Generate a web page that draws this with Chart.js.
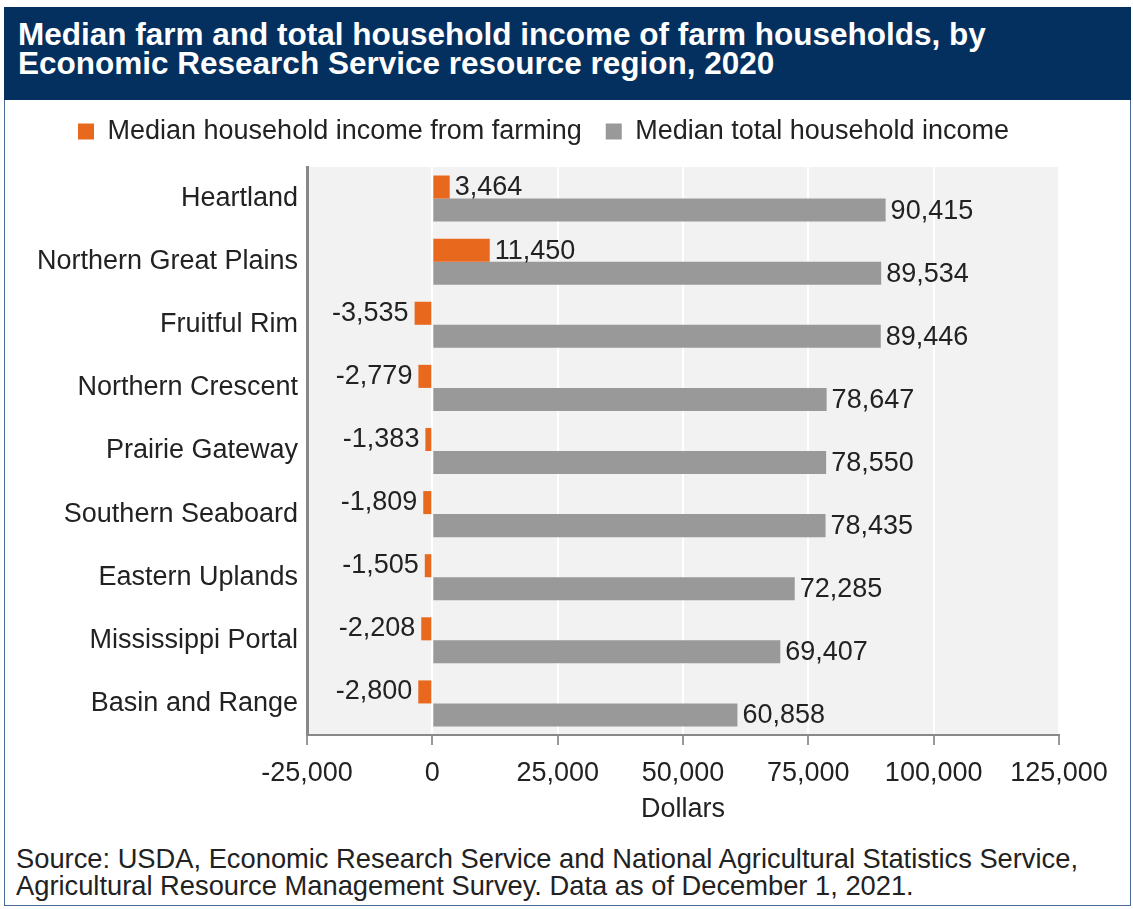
<!DOCTYPE html>
<html>
<head>
<meta charset="utf-8">
<script src="https://cdn.jsdelivr.net/npm/chart.js@4"></script>
<style>
  body { margin: 0; background: #fff; font-family: "Liberation Sans", Arial, Helvetica, sans-serif; }
  #wrap { position: relative; width: 1133px; height: 909px; overflow: hidden; }
  #frame { position: absolute; left: 4px; top: 7px; width: 1125px; height: 897px; border: 1px solid #4a6a96; }
  #banner { position: absolute; left: 4px; top: 7px; width: 1127px; height: 93px; background: #03305f; }
  #title { position: absolute; left: 18px; top: 20px; color: #fff; font-weight: bold; font-size: 31.5px; line-height: 29px; white-space: nowrap; }
  #chartBox { position: absolute; left: 0; top: 90px; width: 1133px; height: 750px; }
  #source { position: absolute; left: 16px; top: 845px; color: #222; font-size: 27.3px; line-height: 27px; white-space: nowrap; }
</style>
</head>
<body>
<div id="wrap">
  <div id="frame"></div>
  <div id="banner"></div>
  <div id="title">Median farm and total household income of farm households, by<br>Economic Research Service resource region, 2020</div>
  <div id="chartBox"><canvas id="incomeChart"></canvas></div>
  <div id="source">Source: USDA, Economic Research Service and National Agricultural Statistics Service,<br>Agricultural Resource Management Survey. Data as of December 1, 2021.</div>
</div>
<script>
  // data
  var regions = ["Heartland", "Northern Great Plains", "Fruitful Rim", "Northern Crescent",
    "Prairie Gateway", "Southern Seaboard", "Eastern Uplands", "Mississippi Portal", "Basin and Range"];
  var farmIncome = [3464, 11450, -3535, -2779, -1383, -1809, -1505, -2208, -2800];
  var totalIncome = [90415, 89534, 89446, 78647, 78550, 78435, 72285, 69407, 60858];
  var xMin = -25000, xMax = 125000, xStep = 25000;

  var FONT = "'Liberation Sans', Arial, Helvetica, sans-serif";
  var fmt = function (v) { return Number(v).toLocaleString("en-US"); };

  // grey plot background
  var plotBg = {
    id: "plotBg",
    beforeDraw: function (chart) {
      var a = chart.chartArea, ctx = chart.ctx;
      ctx.save();
      ctx.fillStyle = "#f2f2f2";
      ctx.fillRect(a.left, a.top, a.right - a.left, a.bottom - a.top);
      ctx.restore();
    }
  };

  // extra space under the legend, and nudge it right/down
  var legendFit = {
    id: "legendFit",
    afterInit: function (chart) {
      var fit = chart.legend.fit;
      chart.legend.fit = function () {
        fit.call(this);
        this.height += 16;
      };
    },
    afterLayout: function (chart) {
      chart.legend.left += 54;
      chart.legend.top += 4;
    }
  };

  // value labels at bar ends
  var barLabels = {
    id: "barLabels",
    afterDatasetsDraw: function (chart) {
      var ctx = chart.ctx;
      ctx.save();
      ctx.font = "27px " + FONT;
      ctx.fillStyle = "#222";
      ctx.textBaseline = "middle";
      chart.data.datasets.forEach(function (ds, i) {
        chart.getDatasetMeta(i).data.forEach(function (bar, j) {
          var v = ds.data[j];
          if (v < 0) {
            ctx.textAlign = "right";
            ctx.fillText(fmt(v), bar.x - 6, bar.y);
          } else {
            ctx.textAlign = "left";
            ctx.fillText(fmt(v), bar.x + 5, bar.y + 1);
          }
        });
      });
      ctx.restore();
    }
  };

  var ctx = document.getElementById("incomeChart").getContext("2d");
  var chart = new Chart(ctx, {
    type: "bar",
    data: {
      labels: regions,
      datasets: [
        {
          label: "Median household income from farming",
          data: farmIncome,
          backgroundColor: "#e8681e",
          borderWidth: 0,
          categoryPercentage: 0.73,
          barPercentage: 1.0,
        },
        {
          label: "Median total household income",
          data: totalIncome,
          backgroundColor: "#999999",
          borderWidth: 0,
          categoryPercentage: 0.73,
          barPercentage: 1.0,
        },
      ],
    },
    options: {
      indexAxis: "y",
      responsive: true,
      maintainAspectRatio: false,
      animation: false,
      layout: { padding: { left: 0, right: 74, top: 0, bottom: 0 } },
      plugins: {
        legend: {
          position: "top",
          align: "start",
          labels: {
            boxWidth: 16,
            boxHeight: 16,
            padding: 24,
            color: "#222",
            font: { family: FONT, size: 27 },
          },
        },
        tooltip: { enabled: false },
      },
      scales: {
        x: {
          min: xMin,
          max: xMax,
          afterFit: function (scale) { scale.height = 105; },
          ticks: {
            stepSize: xStep,
            padding: 12,
            color: "#222",
            font: { family: FONT, size: 27 },
            callback: function (v) { return fmt(v); },
          },
          grid: {
            color: "#ffffff",
            lineWidth: 2,
            tickColor: "#999",
            tickWidth: 2,
            tickLength: 10,
          },
          border: { color: "#888", width: 2 },
          title: {
            display: true,
            text: "Dollars",
            color: "#222",
            font: { family: FONT, size: 27 },
            padding: { top: 0, bottom: 14 },
          },
        },
        y: {
          afterFit: function (scale) { scale.width = 307; },
          ticks: {
            padding: 9,
            color: "#222",
            font: { family: FONT, size: 27 },
          },
          grid: { display: false, drawTicks: false },
          border: { color: "#888", width: 3 },
        },
      },
    },
    plugins: [plotBg, legendFit, barLabels],
  });
</script>
</body>
</html>
